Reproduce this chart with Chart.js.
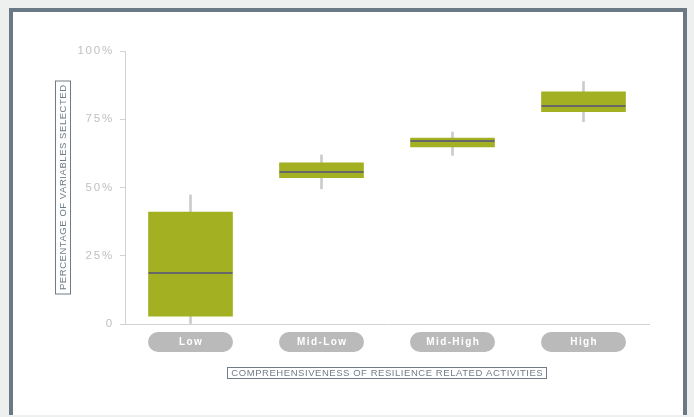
<!DOCTYPE html>
<html><head><meta charset="utf-8">
<script src="https://cdn.jsdelivr.net/npm/chart.js@4"></script>
<style>
html,body{margin:0;padding:0;background:#eef0ef;width:694px;height:417px;overflow:hidden}
#frame{position:absolute;left:9px;top:8px;width:678px;height:407px;box-sizing:border-box;border:4px solid #6b7985;border-bottom:none;background:#fff}
#wrap{position:absolute;left:0;top:0;width:694px;height:417px}
</style></head><body><div id="frame"></div><div id="wrap"><canvas id="c" width="694" height="417"></canvas></div>
<script>
const categories = ['Low', 'Mid-Low', 'Mid-High', 'High'];
const whiskerMin = [0, 49.5, 61.8, 74.1];
const q1 = [2.9, 53.6, 64.9, 77.8];
const median = [18.7, 55.7, 67.1, 79.7];
const q3 = [41.0, 59.0, 68.1, 85.0];
const whiskerMax = [47.3, 61.9, 70.3, 88.8];
const yTicks = [0, 25, 50, 75, 100];
const yTickLabels = ['0', '25%', '50%', '75%', '100%'];
const yTitle = 'PERCENTAGE OF VARIABLES SELECTED';
const xTitle = 'COMPREHENSIVENESS OF RESILIENCE RELATED ACTIVITIES';

const FONT = '"Liberation Sans", Arial, sans-serif';
const BOX_W = 84;

function roundRect(ctx, x, y, w, h, r) {
  ctx.beginPath();
  ctx.moveTo(x + r, y);
  ctx.lineTo(x + w - r, y);
  ctx.arc(x + w - r, y + r, r, -Math.PI / 2, Math.PI / 2);
  ctx.lineTo(x + r, y + h);
  ctx.arc(x + r, y + r, r, Math.PI / 2, Math.PI * 1.5);
  ctx.closePath();
}

const decor = {
  id: 'decor',
  beforeDraw(chart) {
    const ctx = chart.ctx, xs = chart.scales.x, area = chart.chartArea;
    ctx.save();
    ctx.letterSpacing = '1.4px';
    ctx.font = 'bold 10px ' + FONT;
    ctx.textAlign = 'center';
    ctx.textBaseline = 'middle';
    categories.forEach((c, i) => {
      const cx = xs.getPixelForValue(i);
      const top = area.bottom + 8;
      ctx.fillStyle = '#bababa';
      roundRect(ctx, cx - 42.5, top, 85, 20, 10);
      ctx.fill();
      ctx.fillStyle = '#ffffff';
      ctx.fillText(c, cx + 0.7, top + 10.5);
    });
    ctx.restore();
    ctx.letterSpacing = '1.8px';
  },
  afterDatasetsDraw(chart) {
    const ctx = chart.ctx, xs = chart.scales.x, ys = chart.scales.y;
    ctx.save();
    ctx.strokeStyle = '#676767';
    ctx.lineWidth = 2;
    median.forEach((m, i) => {
      const cx = xs.getPixelForValue(i);
      const y = Math.round(ys.getPixelForValue(m));
      ctx.beginPath();
      ctx.moveTo(cx - BOX_W / 2, y);
      ctx.lineTo(cx + BOX_W / 2, y);
      ctx.stroke();
    });
    ctx.restore();
  },
  afterDraw(chart) {
    const ctx = chart.ctx, area = chart.chartArea;
    ctx.save();
    ctx.letterSpacing = '0.55px';
    ctx.font = '9.5px ' + FONT;
    ctx.textAlign = 'center';
    ctx.textBaseline = 'middle';
    ctx.fillStyle = '#6f7c87';
    ctx.strokeStyle = '#6f7c87';
    ctx.lineWidth = 1;
    // x title
    const xw = ctx.measureText(xTitle).width;
    const xc = (area.left + area.right) / 2;
    const xy = area.bottom + 48.5;
    ctx.strokeRect(Math.round(xc - xw / 2 - 4) + 0.5, Math.round(xy - 6) + 0.5, Math.round(xw + 7), 11);
    ctx.fillText(xTitle, xc + 0.3, xy + 0.5);
    // y title
    const yw = ctx.measureText(yTitle).width;
    const yc = (area.top + area.bottom) / 2;
    const yx = 63;
    ctx.translate(yx, yc);
    ctx.rotate(-Math.PI / 2);
    ctx.strokeRect(Math.round(-yw / 2 - 4) + 0.5, -7.5, Math.round(yw + 7), 15);
    ctx.fillText(yTitle, 0.3, 0.5);
    ctx.restore();
  }
};

new Chart(document.getElementById('c'), {
  type: 'bar',
  data: {
    labels: categories,
    datasets: [
      {
        label: 'Range',
        data: categories.map((c, i) => [whiskerMin[i], whiskerMax[i]]),
        backgroundColor: '#cbcbcb',
        barThickness: 2,
        grouped: false,
        borderWidth: 0,
        borderSkipped: false,
        order: 2
      },
      {
        label: 'Interquartile',
        data: categories.map((c, i) => [q1[i], q3[i]]),
        backgroundColor: '#a2b021',
        barThickness: BOX_W,
        grouped: false,
        borderWidth: 0,
        borderSkipped: false,
        order: 1
      }
    ]
  },
  options: {
    responsive: false,
    devicePixelRatio: 1,
    animation: false,
    events: [],
    layout: { padding: { top: 51, right: 45, left: 0, bottom: 0 } },
    plugins: { legend: { display: false }, tooltip: { enabled: false } },
    scales: {
      x: {
        offset: true,
        grid: { display: false, drawTicks: false },
        border: { display: true, color: '#d2d2d2' },
        ticks: { display: false },
        afterFit(s) { s.height = 93; }
      },
      y: {
        min: 0, max: 100,
        afterBuildTicks(s) { s.ticks = yTicks.map(v => ({ value: v })); },
        ticks: {
          callback: (v) => yTickLabels[yTicks.indexOf(v)],
          color: '#c0c0c0',
          font: { size: 11.5, family: FONT },
          padding: 6
        },
        grid: { drawOnChartArea: false, drawTicks: true, tickLength: 5, color: '#d2d2d2' },
        border: { color: '#d2d2d2' },
        afterFit(s) { s.width = 125; }
      }
    }
  },
  plugins: [decor]
});
</script>
</body></html>
